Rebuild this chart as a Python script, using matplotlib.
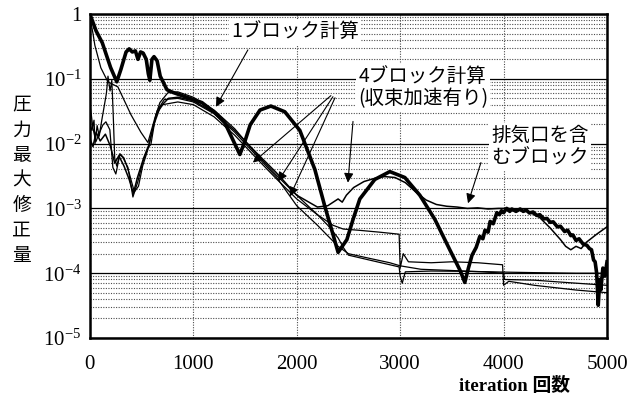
import numpy as np
import matplotlib
matplotlib.use('Agg')
import matplotlib.pyplot as plt
from matplotlib.ticker import LogLocator, NullFormatter

plt.rcParams['font.family'] = ['Liberation Serif', 'Noto Sans CJK JP']
plt.rcParams['mathtext.fontset'] = 'custom'
plt.rcParams['mathtext.rm'] = 'Liberation Serif'
plt.rcParams['mathtext.default'] = 'regular'
JP = ['Noto Sans CJK JP', 'DejaVu Sans']

# 1ブロック計算 (thick)
it_1blk = [0, 60, 120, 200, 260, 300, 350, 380, 410, 440, 465, 490, 515, 545, 565, 580,
           600, 620, 650, 680, 700, 745, 800, 920, 1083, 1210, 1305, 1400, 1450, 1500,
           1550, 1645, 1750, 1885, 2030, 2175, 2270, 2350, 2400, 2485, 2545, 2610, 2755,
           2900, 3045, 3190, 3335, 3480, 3580, 3625, 3660, 3695, 3735, 3770, 3800, 3820,
           3850, 3870, 3900, 3935, 3960, 3980, 4000, 4030, 4060, 4080, 4120, 4160, 4190,
           4220, 4250, 4285, 4320, 4350, 4390, 4420, 4450, 4480, 4520, 4550, 4590, 4620,
           4650, 4670, 4700, 4730, 4770, 4805, 4830, 4850, 4870, 4885, 4900, 4915, 4930,
           4940, 4960, 4980, 5000]
res_1blk = [1.0, 0.55, 0.36, 0.15, 0.09, 0.14, 0.26, 0.29, 0.26, 0.27, 0.2, 0.26, 0.25,
            0.2, 0.12, 0.095, 0.2, 0.22, 0.19, 0.11, 0.095, 0.068, 0.062, 0.053, 0.043,
            0.03, 0.021, 0.01, 0.0068, 0.011, 0.0195, 0.033, 0.038, 0.031, 0.016, 0.004,
            0.0011, 4e-4, 2.1e-4, 3.3e-4, 6.8e-4, 1.4e-3, 2.8e-3, 3.7e-3, 3.0e-3, 1.6e-3,
            6.8e-4, 2.3e-4, 1.1e-4, 7.2e-5, 1.2e-4, 1.9e-4, 2.5e-4, 3.7e-4, 3.4e-4, 4.6e-4,
            4.3e-4, 6.3e-4, 5.8e-4, 8.6e-4, 8.0e-4, 9.2e-4, 8.6e-4, 1.0e-3, 9.0e-4, 9.8e-4,
            9.0e-4, 9.8e-4, 9.0e-4, 9.4e-4, 8.5e-4, 8.8e-4, 7.8e-4, 8.0e-4, 6.9e-4, 7.0e-4,
            6.1e-4, 6.2e-4, 5.2e-4, 5.3e-4, 4.4e-4, 4.6e-4, 3.8e-4, 3.9e-4, 3.2e-4, 3.4e-4,
            2.8e-4, 2.7e-4, 2.4e-4, 2.3e-4, 1.6e-4, 1.5e-4, 1.0e-4, 3.2e-5, 8e-5, 5.5e-5,
            1.2e-4, 9e-5, 1.5e-4]

# 4ブロック計算 (thin lines)
it_blkA = [0, 10, 30, 48, 106, 174, 271, 397, 493, 561, 629, 677, 754, 850, 1000, 1200,
           1400, 1600, 1800, 2000, 2200, 2300, 2400, 2450, 2500, 2700, 2900, 2990, 3000,
           3020, 3050, 3300, 3600, 3900, 4000, 4300, 4700, 5000]
res_blkA = [1.0, 0.75, 0.5, 0.33, 0.148, 0.09, 0.075, 0.028, 0.015, 0.0104, 0.025, 0.043,
            0.061, 0.063, 0.052, 0.033, 0.017, 0.0072, 0.0033, 0.0016, 8e-4, 5.5e-4,
            3.5e-4, 2.5e-4, 1.9e-4, 1.6e-4, 1.35e-4, 1.25e-4, 9e-5, 7e-5, 1.05e-4,
            1.08e-4, 1.07e-4, 1.05e-4, 1.04e-4, 1.02e-4, 1.0e-4, 1.0e-4]

it_blkB = [0, 10, 29, 58, 97, 126, 155, 193, 222, 251, 290, 319, 368, 416, 464, 513, 561,
           590, 638, 706, 850, 1000, 1200, 1400, 1600, 1800, 2000, 2200, 2350, 2450, 2600,
           2800, 2990, 3000, 3030, 3080, 3300, 3500, 3750, 3990, 4000, 4050, 4300, 4700,
           5000]
res_blkB = [0.04, 0.031, 0.0176, 0.0107, 0.0153, 0.0195, 0.0217, 0.0164, 0.0043, 0.0034,
            0.0068, 0.0061, 0.0043, 0.0015, 0.0026, 0.0053, 0.0087, 0.0097, 0.028, 0.04,
            0.044, 0.04, 0.026, 0.0135, 0.0062, 0.0029, 0.0014, 8e-4, 5.5e-4, 4.8e-4,
            4.6e-4, 4.3e-4, 4.0e-4, 1.2e-4, 2.0e-4, 1.5e-4, 1.45e-4, 1.5e-4, 1.45e-4,
            1.35e-4, 6.5e-5, 7.5e-5, 6.5e-5, 5.5e-5, 5.0e-5]

it_blkC = [0, 20, 40, 50, 70, 90, 115, 135, 160, 175, 195, 212, 225, 240, 260, 290, 330,
           380, 430, 470, 510, 560, 600, 650, 720, 850, 1000, 1200, 1400, 1600, 1800, 2000,
           2200, 2400, 2500, 2700, 2900, 3000, 3200, 3500, 3800, 4000, 4010, 4300, 4600,
           5000]
res_blkC = [0.02, 0.016, 0.023, 0.01, 0.019, 0.013, 0.023, 0.035, 0.06, 0.11, 0.065,
            0.095, 0.03, 0.006, 0.0045, 0.007, 0.006, 0.0035, 0.0018, 0.0022, 0.0045,
            0.008, 0.015, 0.032, 0.048, 0.05, 0.044, 0.029, 0.015, 0.0068, 0.0031,
            0.0011, 5.5e-4, 2.6e-4, 2.0e-4, 1.7e-4, 1.45e-4, 1.3e-4, 1.15e-4, 1.1e-4,
            1.05e-4, 1.0e-4, 8e-5, 7.8e-5, 7.2e-5, 6.5e-5]

# 排気口を含むブロック
it_exh = [0, 30, 60, 100, 150, 200, 240, 280, 330, 380, 420, 460, 520, 570, 620, 680, 760,
          850, 1000, 1200, 1400, 1600, 1800, 2000, 2200, 2300, 2400, 2440, 2480, 2550,
          2650, 2750, 2850, 2950, 3050, 3150, 3250, 3350, 3450, 3550, 3650, 3750, 3850,
          3950, 4050, 4150, 4250, 4350, 4450, 4550, 4600, 4650, 4700, 4750, 4800, 4900,
          5000]
res_exh = [0.012, 0.009, 0.015, 0.011, 0.014, 0.009, 0.005, 0.0065, 0.0045, 0.0028,
           0.0017, 0.003, 0.006, 0.0095, 0.02, 0.037, 0.05, 0.052, 0.046, 0.03, 0.016,
           0.0075, 0.0036, 0.0016, 1.05e-3, 1.1e-3, 1.4e-3, 1.25e-3, 1.6e-3, 2.1e-3,
           2.6e-3, 2.9e-3, 3.1e-3, 3.0e-3, 2.5e-3, 1.8e-3, 1.35e-3, 1.15e-3, 1.08e-3,
           1.05e-3, 1.0e-3, 1.02e-3, 0.98e-3, 1.0e-3, 1.0e-3, 9.5e-4, 8.8e-4, 7.2e-4,
           5e-4, 3.3e-4, 2.6e-4, 2.3e-4, 2.6e-4, 2.4e-4, 3.0e-4, 4.0e-4, 5.2e-4]

ytick_vals = [1e-5, 1e-4, 1e-3, 1e-2, 1e-1, 1]
ytick_labels = ['$10^{-5}$', '$10^{-4}$', '$10^{-3}$', '$10^{-2}$', '$10^{-1}$', '1']
xtick_vals = [0, 1000, 2000, 3000, 4000, 5000]

fig = plt.figure(figsize=(6.42, 3.96), dpi=100)
ax = fig.add_axes([0.140, 0.1465, 0.8055, 0.818])

ax.semilogy(it_blkA, res_blkA, color='k', lw=0.9)
ax.semilogy(it_blkB, res_blkB, color='k', lw=0.9)
ax.semilogy(it_blkC, res_blkC, color='k', lw=0.9)
ax.semilogy(it_exh, res_exh, color='k', lw=1.1)
ax.semilogy(it_1blk, res_1blk, color='k', lw=2.6)

ax.set_xlim(0, 5000)
ax.set_ylim(1e-5, 1)
ax.set_yticks(ytick_vals)
ax.set_yticklabels(ytick_labels)
ax.yaxis.set_minor_locator(LogLocator(base=10, subs=np.arange(2, 10)))
ax.yaxis.set_minor_formatter(NullFormatter())
ax.set_xticks(xtick_vals)
ax.tick_params(axis='both', which='both', length=0, labelsize=15)
ax.tick_params(axis='y', pad=6)
ax.tick_params(axis='x', pad=12)

ax.grid(True, axis='y', which='major', color='k', lw=0.9, ls='-')
ax.grid(True, axis='y', which='minor', color='0.3', lw=0.8, ls=(0, (1, 1.3)))
ax.grid(True, axis='x', which='major', color='0.3', lw=0.8, ls=(0, (1, 1.3)))
ax.set_axisbelow(True)
for sp in ax.spines.values():
    sp.set_linewidth(1.8)

arrow = dict(arrowstyle='-|>', color='k', lw=0.8, mutation_scale=14, shrinkA=0, shrinkB=0)
box = dict(facecolor='white', edgecolor='none', pad=1.5)

ax.text(1983, 0.53, '1ブロック計算', family=JP, fontsize=14, ha='center', va='center', bbox=box)
ax.annotate('', xy=(1219, 0.037), xytext=(1528, 0.28), arrowprops=arrow)

ax.text(3220, 0.073, '4ブロック計算\n(収束加速有り)', family=JP, fontsize=14,
        ha='center', va='center', linespacing=1.1, bbox=box)
ax.annotate('', xy=(1576, 5.1e-3), xytext=(2330, 0.055), arrowprops=arrow)
ax.annotate('', xy=(1818, 2.6e-3), xytext=(2350, 0.053), arrowprops=arrow)
ax.annotate('', xy=(1934, 1.53e-3), xytext=(2370, 0.051), arrowprops=arrow)
ax.annotate('', xy=(2495, 2.5e-3), xytext=(2544, 0.022), arrowprops=arrow)

ax.text(4352, 9e-3, '排気口を含\nむブロック', family=JP, fontsize=14,
        ha='center', va='center', linespacing=1.1, bbox=box)
ax.annotate('', xy=(3656, 1.2e-3), xytext=(3781, 5.1e-3), arrowprops=arrow)

fig.text(0.034, 0.545, '圧\n力\n最\n大\n修\n正\n量', family=JP, fontsize=13.5,
         ha='center', va='center', linespacing=1.25)
fig.text(0.802, 0.025, 'iteration 回数', family=['Liberation Serif', 'Noto Sans CJK JP'],
         fontsize=13.5, fontweight='bold', ha='center', va='center')

fig.savefig('out.png', dpi=100)
